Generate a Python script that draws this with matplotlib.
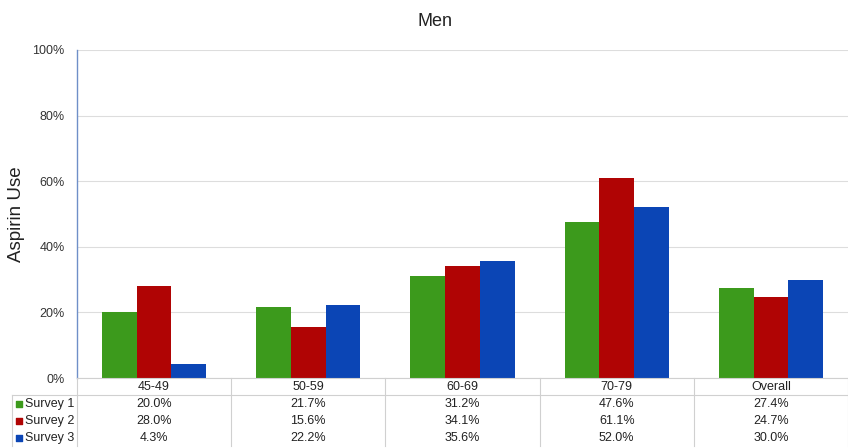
import matplotlib.pyplot as plt
import numpy as np

# Aspirin use among men, by age group and survey
groups = ['45-49', '50-59', '60-69', '70-79', 'Overall']
series = ['Survey 1', 'Survey 2', 'Survey 3']
survey1 = [20.0, 21.7, 31.2, 47.6, 27.4]
survey2 = [28.0, 15.6, 34.1, 61.1, 24.7]
survey3 = [4.3, 22.2, 35.6, 52.0, 30.0]
colors = ['#3c9a1c', '#b00404', '#0b45b5']

plt.rcParams['font.family'] = ['Liberation Sans', 'DejaVu Sans']

fig = plt.figure(figsize=(8.48, 4.48), dpi=100)
L, R = 77/848, 1.0
ax = fig.add_axes([L, 1-378/448, R-L, 328/448])
tab = fig.add_axes([L, 1-446/448, R-L, 68/448])

x = np.arange(len(groups))
w = 0.225
data = [survey1, survey2, survey3]
for i, (vals, c) in enumerate(zip(data, colors)):
    ax.bar(x + (i-1)*w, vals, width=w, color=c, zorder=3)

ax.set_xlim(-0.5, len(groups)-0.5)
ax.set_ylim(0, 100)
ax.set_yticks(range(0, 101, 20))
ax.set_yticklabels(['%d%%' % v for v in range(0, 101, 20)], fontsize=9, color='#333333')
ax.set_xticks([])
ax.grid(axis='y', color='#dddddd', linewidth=0.8, zorder=0)
ax.tick_params(axis='y', length=0, pad=9)
for s in ['top', 'right', 'bottom']:
    ax.spines[s].set_visible(False)
ax.spines['left'].set_color('#6f8fc8')
ax.spines['left'].set_linewidth(1.0)
fig.text(435/848, 1-22/448, 'Men', fontsize=13, ha='center', va='center', color='#222222')
ax.set_ylabel('Aspirin Use', fontsize=13.5, color='#222222', labelpad=5)

# data table under the plot
tab.set_xlim(-0.5, len(groups)-0.5)
tab.set_ylim(4, 0)
tab.axis('off')
lc = '#d0d0d0'
x0 = -0.5 - 65/154.2
tab.plot([-0.5, len(groups)-0.5], [0, 0], color=lc, lw=0.8, clip_on=False)
tab.plot([x0, len(groups)-0.5], [1, 1], color=lc, lw=0.8, clip_on=False)
tab.plot([x0, x0], [1, 4], color=lc, lw=0.8, clip_on=False)
for b in np.arange(-0.5, len(groups), 1.0):
    tab.plot([b, b], [0, 4], color=lc, lw=0.8, clip_on=False)
for j, g in enumerate(groups):
    tab.text(j, 0.5, g, ha='center', va='center', fontsize=9, color='#222222')
for i, (name, vals, c) in enumerate(zip(series, data, colors)):
    yy = 1.5 + i
    tab.scatter([x0 + 0.045], [yy], marker='s', s=14, color=c, clip_on=False)
    tab.text(x0 + 0.085, yy, name, ha='left', va='center', fontsize=9, color='#222222')
    for j, v in enumerate(vals):
        tab.text(j, yy, '%.1f%%' % v, ha='center', va='center', fontsize=9, color='#222222')

plt.savefig('out.png', dpi=100)
